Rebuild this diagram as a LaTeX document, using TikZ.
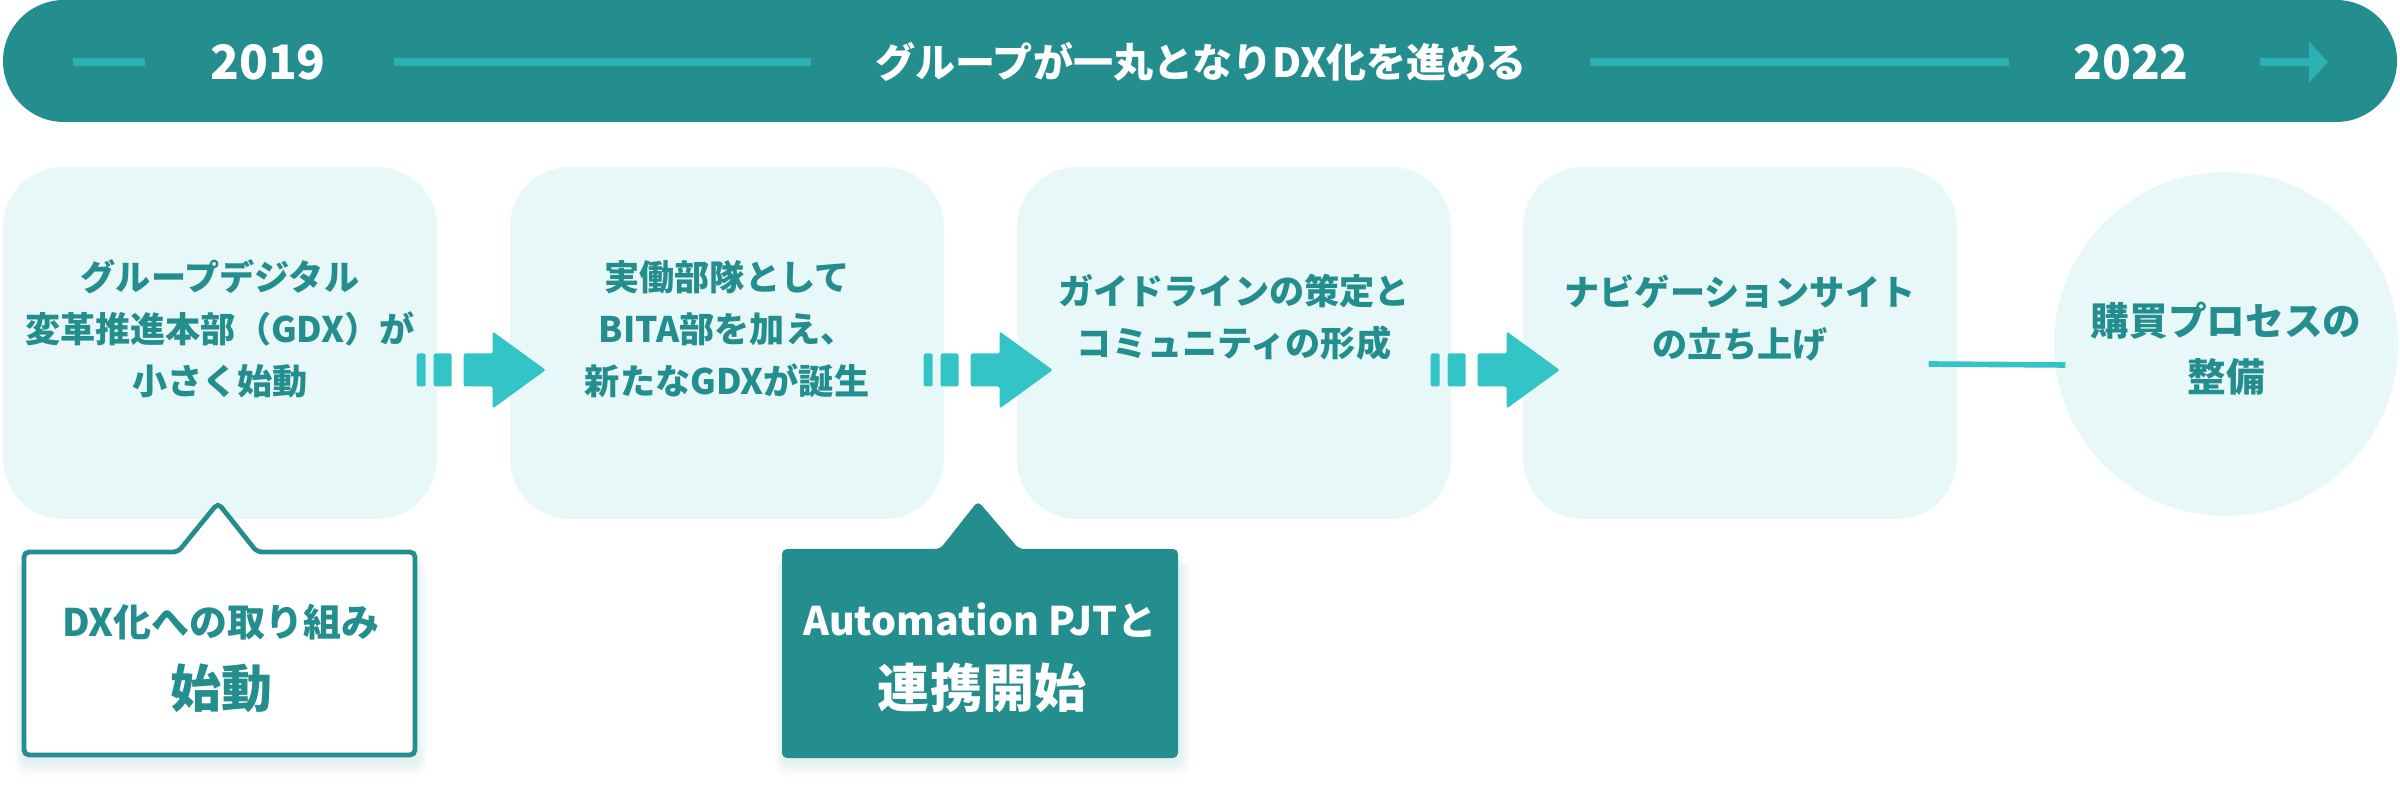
\documentclass[tikz,border=0pt]{standalone}
\usepackage{fontspec}
\setmainfont{Noto Sans CJK JP}
\usetikzlibrary{arrows.meta}

\definecolor{dxteal}{HTML}{248E8E}
\definecolor{dxline}{HTML}{2CB0B3}
\definecolor{dxcyan}{HTML}{33C4C7}
\definecolor{dxpale}{HTML}{E8F8F8}

\tikzset{
  stepbox/.style={rectangle, rounded corners=0.6cm, fill=dxpale, minimum width=4.34cm, minimum height=3.52cm, inner sep=0pt},
  steptext/.style={align=center, text=dxteal, font=\bfseries\fontsize{10}{14.8}\selectfont},
  yeartext/.style={text=white, font=\bfseries\fontsize{13.5}{16}\selectfont},
  bandline/.style={dxline, line width=2pt},
  stepflow/.style={fill=dxcyan, rounded corners=0.02cm},
}

\begin{document}
\begin{tikzpicture}
  \useasboundingbox (0,0) rectangle (24,-7.98);

  % banner
  \node[fill=dxteal, rounded corners=0.61cm, minimum width=23.94cm, minimum height=1.22cm, inner sep=0pt] (band) at (12,-0.61) {};
  \node[yeartext] (y19) at (2.68,-0.62) {2019};
  \node[yeartext] (y22) at (21.31,-0.62) {2022};
  \node[text=white, font=\bfseries\fontsize{11.4}{14}\selectfont] (title) at (12.01,-0.62) {グループが一丸となりDX化を進める};
  \draw[bandline] (0.73,-0.62) -- (1.45,-0.62);
  \draw[bandline] (3.94,-0.62) -- (8.11,-0.62);
  \draw[bandline] (15.90,-0.62) -- (20.09,-0.62);
  \draw[bandline, -{Triangle[length=0.19cm, width=0.4cm]}] (22.60,-0.62) -- (23.28,-0.62);

  % steps
  \node[stepbox] (b1) at (2.20,-3.43) {};
  \node[stepbox] (b2) at (7.27,-3.43) {};
  \node[stepbox] (b3) at (12.34,-3.43) {};
  \node[stepbox] (b4) at (17.40,-3.43) {};
  \node[circle, fill=dxpale, minimum size=3.44cm, inner sep=0pt] (c5) at (22.26,-3.44) {};

  \node[steptext] (t1) at (2.20,-3.29) {グループデジタル\\変革推進本部（GDX）が\\小さく始動};
  \node[steptext] (t2) at (7.27,-3.29) {実働部隊として\\BITA部を加え、\\新たなGDXが誕生};
  \node[steptext] (t3) at (12.34,-3.17) {ガイドラインの策定と\\コミュニティの形成};
  \node[steptext] (t4) at (17.40,-3.18) {ナビゲーションサイト\\の立ち上げ};
  \node[steptext, font=\bfseries\fontsize{11}{15.9}\selectfont] (t5) at (22.26,-3.49) {購買プロセスの\\整備};

  % dashed block arrows
  \foreach \a in {b1,b2,b3} {
    \path (\a.east) ++(-0.21,-0.27) coordinate (s);
    \begin{scope}[shift={(s)}]
      \fill[stepflow] (0,0.165) rectangle (0.09,-0.165);
      \fill[stepflow] (0.17,0.165) rectangle (0.35,-0.165);
      \fill[stepflow] (0.47,0.165) -- (0.76,0.165) -- (0.76,0.385) -- (1.29,0)
        -- (0.76,-0.385) -- (0.76,-0.165) -- (0.47,-0.165) -- cycle;
    \end{scope}
  }
  \draw[dxcyan, line width=1.6pt] ([xshift=-0.29cm, yshift=-0.21cm]b4.east) -- ([xshift=0.12cm, yshift=-0.21cm]c5.west);

  % callout 1
  \foreach \k in {1,...,6}
    \fill[dxteal, opacity=0.025, rounded corners=0.1cm] (0.24-0.015*\k,-5.60) rectangle (4.15+0.02*\k,-7.60-0.025*\k);
  \draw[dxteal, fill=white, line width=1.35pt, rounded corners=0.05cm]
    (0.24,-5.52) -- (1.78,-5.52) -- (2.18,-5.03) -- (2.57,-5.52) -- (4.15,-5.52)
    -- (4.15,-7.55) -- (0.24,-7.55) -- cycle;
  \node[text=dxteal, font=\bfseries\fontsize{10.8}{13}\selectfont] (n1) at (2.21,-6.22) {DX化への取り組み};
  \node[text=dxteal, font=\bfseries\fontsize{14.5}{17}\selectfont] (n2) at (2.21,-6.88) {始動};

  % callout 2
  \foreach \k in {1,...,6}
    \fill[dxteal, opacity=0.025, rounded corners=0.1cm] (7.84-0.015*\k,-5.60) rectangle (11.78+0.02*\k,-7.60-0.025*\k);
  \fill[dxteal, rounded corners=0.05cm]
    (7.82,-5.49) -- (9.40,-5.49) -- (9.78,-5.01) -- (10.19,-5.49) -- (11.78,-5.49)
    -- (11.78,-7.58) -- (7.82,-7.58) -- cycle;
  \node[text=white, font=\bfseries\fontsize{11.2}{13}\selectfont] (n3) at (9.80,-6.20) {Automation PJTと};
  \node[text=white, font=\bfseries\fontsize{14.8}{17}\selectfont] (n4) at (9.82,-6.88) {連携開始};
\end{tikzpicture}
\end{document}
